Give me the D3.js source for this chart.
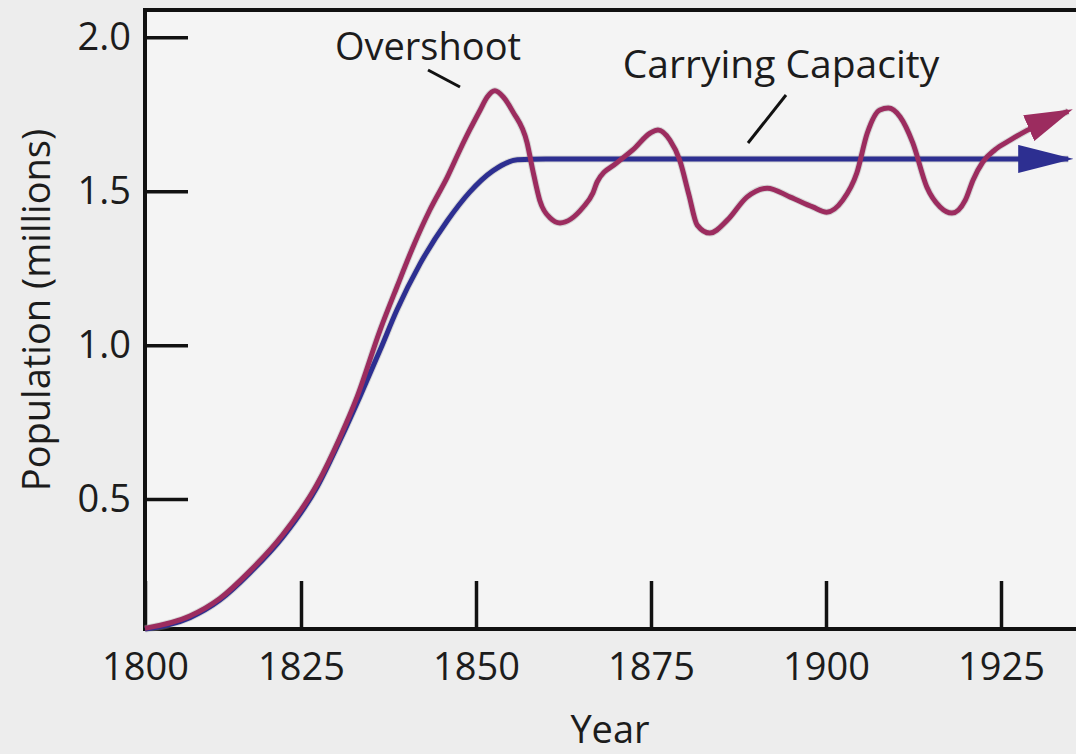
<!DOCTYPE html>
<html>
<head>
<meta charset="utf-8">
<script src="https://cdn.jsdelivr.net/npm/d3@7"></script>
<style>
  body { margin: 0; background: #ededed; }
  svg { display: block; }
  text { font-family: "Open Sans", sans-serif; fill: #1c1c1c; }
</style>
</head>
<body>
<div class="chart"></div>
<script>
var xTicks = [1800, 1825, 1850, 1875, 1900, 1925];
var yTicks = [0.5, 1.0, 1.5, 2.0];

// carrying capacity (blue)
var capacityYears = [1800, 1807.2, 1812, 1816.8, 1822.1, 1827.3, 1830.6, 1833.4, 1836.3, 1838.7, 1842, 1845.9, 1849.1, 1852.4, 1855.9, 1860, 1930, 1934.6];
var capacityValues = [0.078, 0.115, 0.172, 0.26, 0.377, 0.539, 0.692, 0.832, 0.984, 1.114, 1.264, 1.404, 1.497, 1.566, 1.602, 1.605, 1.605, 1.605];

// population (magenta)
var popYears = [1800, 1807.2, 1812, 1816.8, 1822.1, 1827.3, 1830.6, 1833, 1836.3, 1838.7, 1841, 1843.4, 1845.9, 1847.7, 1849.1, 1850.6, 1851.6, 1852.7, 1853.9, 1855.3,
  1857.3, 1858.1, 1859.1, 1860.6, 1862, 1865.3, 1866.7, 1867.3, 1870.1, 1872.4, 1874.9, 1876, 1877.7, 1879.1, 1880.4, 1881.6, 1883.4, 1885.9, 1888.7, 1891.6,
  1894.9, 1898.1, 1900.1, 1902.4, 1904.4, 1905.9, 1907.7, 1908.9, 1910.6, 1912.4, 1914.4, 1916.3, 1918, 1919.9, 1921, 1922.4, 1924.1, 1926.3, 1928.6, 1934.6];
var popValues = [0.08, 0.12, 0.177, 0.266, 0.385, 0.548, 0.702, 0.831, 1.049, 1.189, 1.319, 1.439, 1.546, 1.634, 1.699, 1.764, 1.806, 1.826, 1.806, 1.757,
  1.657, 1.569, 1.471, 1.413, 1.397, 1.448, 1.494, 1.530, 1.592, 1.634, 1.689, 1.699, 1.666, 1.601, 1.49, 1.39, 1.364, 1.406, 1.481, 1.510,
  1.481, 1.449, 1.432, 1.471, 1.559, 1.689, 1.764, 1.770, 1.741, 1.657, 1.514, 1.449, 1.429, 1.471, 1.536, 1.595, 1.634, 1.666, 1.696, 1.760];

var W = 1076, H = 754;
var plotLeft = 145, plotRight = 1076, plotTop = 10, plotBottom = 629;

var svg = d3.select('.chart')
  .append('svg')
    .attr('width', W)
    .attr('height', H);

svg.append('rect')
  .attr('x', plotLeft).attr('y', plotTop)
  .attr('width', plotRight - plotLeft).attr('height', plotBottom - plotTop)
  .style('fill', '#f4f4f4');

var xScale = d3.scaleLinear()
  .domain([1800, 1825, 1925])
  .range([plotLeft, 301, 1001]);

var yScale = d3.scaleLinear()
  .domain([0.078, 2.0])
  .range([plotBottom, 37.3]);

var fs = 38;

var xAxis = d3.axisBottom(xScale)
  .tickValues(xTicks)
  .tickFormat(d3.format('d'))
  .tickSizeInner(-48)
  .tickSizeOuter(0)
  .tickPadding(24);

var gx = svg.append('g')
  .attr('transform', `translate(0, ${plotBottom})`)
  .call(xAxis);
gx.select('.domain').remove();
gx.selectAll('line').style('stroke', '#111').style('stroke-width', 3.5);
gx.selectAll('text').style('font-size', fs + 'px').style('fill', '#1c1c1c').attr('font-family', null);

var yAxis = d3.axisLeft(yScale)
  .tickValues(yTicks)
  .tickFormat(d3.format('.1f'))
  .tickSizeInner(-43)
  .tickSizeOuter(0)
  .tickPadding(14);

var gy = svg.append('g')
  .attr('transform', `translate(${plotLeft}, 0)`)
  .call(yAxis);
gy.select('.domain').remove();
gy.selectAll('line').style('stroke', '#111').style('stroke-width', 3.5);
gy.selectAll('text').style('font-size', fs + 'px').style('fill', '#1c1c1c').attr('font-family', null);

// frame: top, left, bottom
svg.append('path')
  .attr('d', `M${plotRight},${plotTop}H${plotLeft}V${plotBottom}H${plotRight}`)
  .style('fill', 'none')
  .style('stroke', '#111')
  .style('stroke-width', 4);

// arrow markers
var defs = svg.append('defs');
function marker(id, len, half, color) {
  defs.append('marker')
    .attr('id', id)
    .attr('markerUnits', 'userSpaceOnUse')
    .attr('viewBox', `0 ${-half} ${len} ${half * 2}`)
    .attr('refX', len - 5)
    .attr('refY', 0)
    .attr('markerWidth', len)
    .attr('markerHeight', half * 2)
    .attr('orient', 'auto')
    .append('path')
      .attr('d', `M0,${-half}L${len},0L0,${half}Z`)
      .style('fill', color);
}
var blue = '#2d2f91';
var red = '#9c2c5f';
marker('arrowBlue', 55, 14, blue);
marker('arrowRed', 48, 14, red);

var line = d3.line()
  .x(d => xScale(d[0]))
  .y(d => yScale(d[1]))
  .curve(d3.curveMonotoneX);

var capacity = capacityYears.map((y, i) => [y, capacityValues[i]]);
var population = popYears.map((y, i) => [y, popValues[i]]);

// soft halo under the curves
[capacity, population].forEach(function(d) {
  svg.append('path')
    .datum(d)
    .attr('d', line)
    .style('fill', 'none')
    .style('stroke', '#9a9a9a')
    .style('stroke-opacity', 0.35)
    .style('stroke-width', 7);
});

svg.append('path')
  .datum(capacity)
  .attr('d', line)
  .attr('marker-end', 'url(#arrowBlue)')
  .style('fill', 'none')
  .style('stroke', blue)
  .style('stroke-width', 5);

svg.append('path')
  .datum(population)
  .attr('d', line)
  .attr('marker-end', 'url(#arrowRed)')
  .style('fill', 'none')
  .style('stroke', red)
  .style('stroke-width', 5);

// annotations
svg.append('text')
  .attr('x', 428).attr('y', 60)
  .attr('text-anchor', 'middle')
  .style('font-size', fs + 'px')
  .text('Overshoot');
svg.append('line')
  .attr('x1', 428).attr('y1', 70).attr('x2', 460).attr('y2', 87)
  .style('stroke', '#111').style('stroke-width', 3);

svg.append('text')
  .attr('x', 781).attr('y', 78)
  .attr('text-anchor', 'middle')
  .style('font-size', '39px')
  .text('Carrying Capacity');
svg.append('line')
  .attr('x1', 786).attr('y1', 95).attr('x2', 748).attr('y2', 143)
  .style('stroke', '#111').style('stroke-width', 3);

// axis titles
svg.append('text')
  .attr('x', 610).attr('y', 743)
  .attr('text-anchor', 'middle')
  .style('font-size', fs + 'px')
  .text('Year');

svg.append('text')
  .attr('transform', 'translate(50, 310) rotate(-90)')
  .attr('text-anchor', 'middle')
  .style('font-size', fs + 'px')
  .text('Population (millions)');
</script>
</body>
</html>
